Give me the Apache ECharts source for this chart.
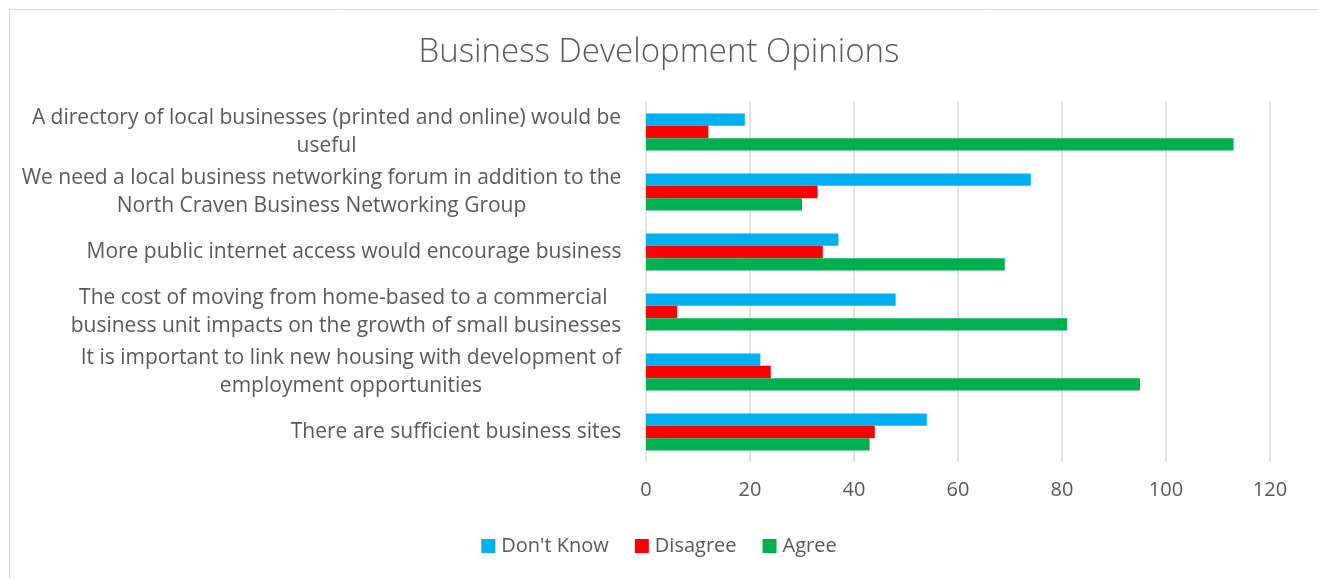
<!DOCTYPE html>
<html>
<head>
<meta charset="utf-8">
<script src="https://cdn.jsdelivr.net/npm/echarts@6/dist/echarts.min.js"></script>
<style>
  html, body { margin: 0; padding: 0; background: #fff; }
  #chart { width: 1318px; height: 579px; }
</style>
</head>
<body>
<div id="chart"></div>
<script>
// Statements, listed bottom to top as they sit on the category axis
const categories = [
  "There are sufficient business sites",
  "It is important to link new housing with development of\nemployment opportunities",
  "The cost of moving from home-based to a commercial \nbusiness unit impacts on the growth of small businesses",
  "More public internet access would encourage business",
  "We need a local business networking forum in addition to the\nNorth Craven Business Networking Group",
  "A directory of local businesses (printed and online) would be\nuseful"
];
const seriesNames = ["Don't Know", "Disagree", "Agree"];
const dontKnow = [54, 22, 48, 37, 74, 19];
const disagree = [44, 24, 6, 34, 33, 12];
const agree    = [43, 95, 81, 69, 30, 113];
const valueTicks = [0, 20, 40, 60, 80, 100, 120];

const TEXT = '#595959';
const FONT_FAMILY = '"Open Sans", "Noto Sans", sans-serif';
const LABEL_SIZE = 21;

// Each multi-line label is centred within its own widest line, right-aligned to the axis
const ctx = document.createElement('canvas').getContext('2d');
ctx.font = LABEL_SIZE + 'px ' + FONT_FAMILY;
const rich = {};
categories.forEach((c, i) => {
  const w = Math.max(...c.split('\n').map(s => ctx.measureText(s).width));
  rich['c' + i] = {
    width: Math.ceil(w) + 1, align: 'center', color: TEXT,
    fontSize: LABEL_SIZE, fontFamily: FONT_FAMILY, lineHeight: 28
  };
});

const chart = echarts.init(document.getElementById('chart'), null, { renderer: 'canvas' });
chart.setOption({
  backgroundColor: '#fff',
  animation: false,
  graphic: [{
    type: 'rect', left: 7, top: 7, silent: true,
    shape: { width: 1309, height: 580 },
    style: { fill: 'none', stroke: '#d9d9d9', lineWidth: 1 }
  }],
  title: {
    text: 'Business Development Opinions',
    left: 'center', top: 31,
    textStyle: { color: TEXT, fontFamily: FONT_FAMILY, fontSize: 33, fontWeight: 300 }
  },
  legend: {
    data: seriesNames,
    bottom: 18, left: 'center',
    itemWidth: 14, itemHeight: 14, itemGap: 26,
    icon: 'rect',
    textStyle: { color: TEXT, fontFamily: FONT_FAMILY, fontSize: 20, padding: [0, 0, 0, 1] }
  },
  grid: { left: 646, right: 48, top: 102, bottom: 117, containLabel: false },
  xAxis: {
    type: 'value', min: valueTicks[0], max: valueTicks[valueTicks.length - 1], interval: 20,
    axisLine: { show: false }, axisTick: { show: false },
    splitLine: { lineStyle: { color: '#d9d9d9', width: 1.5 } },
    axisLabel: { color: TEXT, fontFamily: FONT_FAMILY, fontSize: 20, margin: 18 }
  },
  yAxis: {
    type: 'category', data: categories,
    axisLine: { show: false }, axisTick: { show: false },
    axisLabel: {
      margin: 24, align: 'right',
      formatter: (v, i) => v.split('\n').map(s => '{c' + i + '|' + s + '}').join('\n'),
      rich: rich
    }
  },
  series: [
    { name: seriesNames[0], type: 'bar', data: dontKnow, itemStyle: { color: '#00b0f0' }, barGap: '0%', barCategoryGap: '38%' },
    { name: seriesNames[1], type: 'bar', data: disagree, itemStyle: { color: '#ff0000' }, barGap: '0%', barCategoryGap: '38%' },
    { name: seriesNames[2], type: 'bar', data: agree,    itemStyle: { color: '#00b050' }, barGap: '0%', barCategoryGap: '38%' }
  ]
});
</script>
</body>
</html>
